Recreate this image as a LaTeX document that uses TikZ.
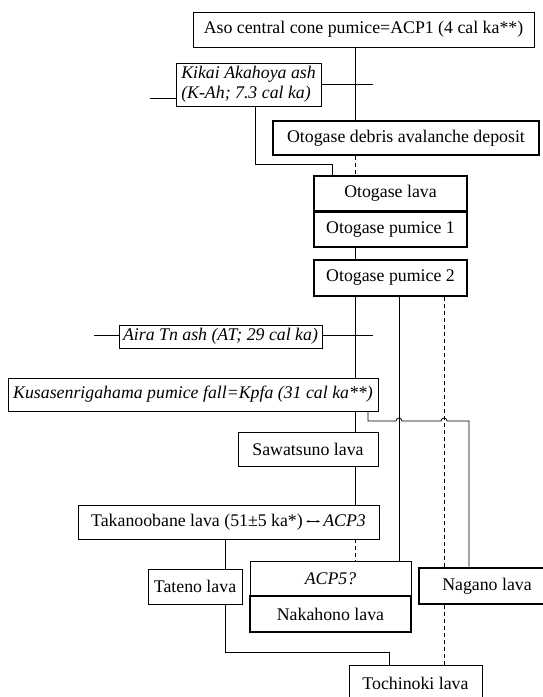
\documentclass[tikz,border=0pt]{standalone}
\usepackage{fontspec}
\setmainfont{Liberation Serif}
\usetikzlibrary{arrows.meta}
\colorlet{box edge}{black}
\colorlet{link line}{black}
\tikzset{box/.style={draw=box edge, line width=0.8pt, inner sep=0pt},
    heavy/.style={box, line width=2.8pt},
    link/.style={draw=link line, line width=0.8pt},
    hidden/.style={link, dash pattern=on 4pt off 3pt}}
\newcommand{\twoway}{\tikz[baseline=-0.6ex]\draw[{Stealth[length=3.5pt]}-{Stealth[length=3.5pt]}, line width=0.6pt] (0pt,0pt) -- (14pt,0pt);}

\begin{document}
\begin{tikzpicture}[x=1pt, y=-1pt, font=\fontsize{17.8}{20.3}\selectfont]
    \clip (0,0) rectangle (543,697);
    \node[box, minimum width=341pt, minimum height=35pt] (acp1) at (363.5,29.5)
      {Aso central cone pumice=ACP1 (4 cal ka**)};
    \node[box, minimum width=145pt, minimum height=43pt, align=left] (kikai) at (248.5,84.5)
      {\itshape Kikai Akahoya ash\\ \itshape (K-Ah; 7.3 cal ka)};
    \node[heavy, minimum width=266pt, minimum height=34pt] (debris) at (406,138)
      {Otogase debris avalanche deposit};
    \node[heavy, minimum width=153pt, minimum height=35pt] (olava) at (390.5,193.5) {Otogase lava};
    \node[heavy, minimum width=153pt, minimum height=35pt] (opum1) at (390.5,229.5) {Otogase pumice 1};
    \node[heavy, minimum width=153pt, minimum height=36pt] (opum2) at (390.5,278) {Otogase pumice 2};
    \node[box, minimum width=203pt, minimum height=23pt] (aira) at (220.5,336.5)
      {\itshape Aira Tn ash (AT; 29 cal ka)};
    \node[box, minimum width=370pt, minimum height=33pt] (kusa) at (193,394.5)
      {\itshape Kusasenrigahama pumice fall=Kpfa (31 cal ka**)};
    \node[box, minimum width=140pt, minimum height=34pt] (sawa) at (308,449) {Sawatsuno lava};
    \node[box, minimum width=301pt, minimum height=34pt] (taka) at (228.5,522)
      {Takanoobane lava (51±5 ka*)\,\twoway\,\textit{ACP3}};
    \node[box, minimum width=94pt, minimum height=35pt] (tateno) at (195,586.5) {Tateno lava};
    \node[box, minimum width=161pt, minimum height=35pt] (acp5) at (330.5,578.5) {\itshape ACP5?};
    \node[heavy, minimum width=161pt, minimum height=36pt] (naka) at (330.5,614) {Nakahono lava};
    \node[heavy, minimum width=136pt, minimum height=36pt] (nagano) at (487,586) {Nagano lava};
    \node[box, minimum width=133pt, minimum height=36pt] (tochi) at (415.5,683) {Tochinoki lava};

    \coordinate (axis) at (355,0);
    \coordinate (axis b) at (399,0);
    \coordinate (axis c) at (444,0);
    \coordinate (kikai left) at (150,98);
    \coordinate (kikai right) at (373,84);
    \coordinate (kikai drop) at (255,164);
    \coordinate (lava feed) at (332,164);
    \coordinate (aira left) at (94,335);
    \coordinate (aira right) at (373,335);
    \coordinate (kusa drop) at (368,421);
    \coordinate (nagano feed) at (469,421);
    \coordinate (tateno axis) at (225,0);
    \coordinate (tochi feed) at (389,652);

    \draw[link] (acp1.south -| axis) -- (debris.north -| axis);
    \draw[hidden] (debris.south -| axis) -- (olava.north -| axis);
    \draw[link] (opum1.south -| axis) -- (opum2.north -| axis);
    \draw[link] (opum2.south -| axis) -- (kusa.north -| axis);
    \draw[link] (kusa.south -| axis) -- (sawa.north -| axis);
    \draw[link] (sawa.south -| axis) -- (taka.north -| axis);
    \draw[hidden] (taka.south -| axis) -- (acp5.north -| axis);
    \draw[link] (opum2.south -| axis b) -- (acp5.north -| axis b);
    \draw[hidden] (opum2.south -| axis c) -- (nagano.north -| axis c);
    \draw[hidden] (nagano.south -| axis c) -- (tochi.north -| axis c);

    \draw[link] (kikai left) -- (kikai left -| kikai.west);
    \draw[link] (kikai.east |- kikai right) -- (kikai right);
    \draw[link] (kikai.south -| kikai drop) -- (kikai drop) -- (lava feed) -- (lava feed |- olava.north);
    \draw[link] (aira left) -- (aira left -| aira.west);
    \draw[link] (aira.east |- aira right) -- (aira right);
    \draw[link] (kusa.south -| kusa drop) -- (kusa drop) -- (396,421)
      arc[start angle=180, end angle=0, radius=3pt] -- (441,421)
      arc[start angle=180, end angle=0, radius=3pt] -- (nagano feed) -- (nagano feed |- nagano.north);
    \draw[link] (taka.south -| tateno axis) -- (tateno.north -| tateno axis);
    \draw[link] (tateno.south -| tateno axis) |- (tochi feed) -- (tochi feed |- tochi.north);
\end{tikzpicture}
\end{document}
